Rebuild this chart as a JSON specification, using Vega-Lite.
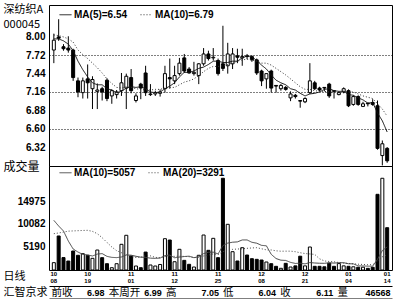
{
"$schema":"https://vega.github.io/schema/vega-lite/v6.json",
"background":"white",
"padding":{"left":2,"top":2,"right":2,"bottom":0},
"datasets":{
"k":[
{"d":"10/08","o":7.80,"h":8.05,"l":7.60,"c":7.95,"v":1600,"ma5":7.97,"ma10":8.03,"vma10":10800,"vma20":7900},
{"d":"10/11","o":8.00,"h":8.27,"l":7.94,"c":7.98,"v":7400,"ma5":7.97,"ma10":8.02,"vma10":9570,"vma20":8050},
{"d":"10/12","o":7.85,"h":7.89,"l":7.79,"c":7.82,"v":2700,"ma5":7.94,"ma10":8.00,"vma10":8480,"vma20":8250},
{"d":"10/13","o":7.83,"h":8.01,"l":7.76,"c":7.80,"v":1950,"ma5":7.89,"ma10":7.97,"vma10":6300,"vma20":8450},
{"d":"10/14","o":7.80,"h":7.82,"l":7.33,"c":7.38,"v":4130,"ma5":7.79,"ma10":7.92,"vma10":4570,"vma20":8500},
{"d":"10/15","o":7.33,"h":7.38,"l":7.08,"c":7.16,"v":3200,"ma5":7.63,"ma10":7.80,"vma10":3900,"vma20":8550},
{"d":"10/18","o":7.15,"h":7.38,"l":7.06,"c":7.33,"v":3550,"ma5":7.50,"ma10":7.73,"vma10":3400,"vma20":8600},
{"d":"10/19","o":7.36,"h":7.58,"l":7.06,"c":7.30,"v":3200,"ma5":7.39,"ma10":7.67,"vma10":3260,"vma20":8630},
{"d":"10/20","o":7.21,"h":7.40,"l":6.90,"c":7.35,"v":2540,"ma5":7.30,"ma10":7.60,"vma10":3050,"vma20":8400},
{"d":"10/21","o":7.17,"h":7.29,"l":6.90,"c":7.19,"v":4350,"ma5":7.27,"ma10":7.53,"vma10":3462,"vma20":7900},
{"d":"10/22","o":7.21,"h":7.24,"l":7.03,"c":7.16,"v":2680,"ma5":7.27,"ma10":7.45,"vma10":3570,"vma20":7030},
{"d":"10/25","o":7.34,"h":7.37,"l":7.02,"c":7.06,"v":1370,"ma5":7.21,"ma10":7.36,"vma10":2967,"vma20":6000},
{"d":"10/26","o":7.10,"h":7.20,"l":6.98,"c":7.18,"v":500,"ma5":7.19,"ma10":7.29,"vma10":2747,"vma20":5000},
{"d":"10/27","o":7.12,"h":7.19,"l":7.06,"c":7.16,"v":1370,"ma5":7.15,"ma10":7.23,"vma10":2689,"vma20":4200},
{"d":"10/28","o":7.18,"h":7.45,"l":7.10,"c":7.30,"v":5590,"ma5":7.17,"ma10":7.22,"vma10":2835,"vma20":3760},
{"d":"10/29","o":7.22,"h":7.44,"l":6.90,"c":7.40,"v":7550,"ma5":7.22,"ma10":7.24,"vma10":3270,"vma20":3400},
{"d":"11/01","o":7.38,"h":7.51,"l":7.14,"c":7.18,"v":3050,"ma5":7.24,"ma10":7.23,"vma10":3220,"vma20":3000},
{"d":"11/02","o":7.03,"h":7.14,"l":7.00,"c":7.10,"v":870,"ma5":7.23,"ma10":7.21,"vma10":2987,"vma20":2700},
{"d":"11/03","o":7.28,"h":7.30,"l":7.05,"c":7.22,"v":500,"ma5":7.24,"ma10":7.20,"vma10":2783,"vma20":2800},
{"d":"11/04","o":7.45,"h":7.56,"l":7.10,"c":7.15,"v":3900,"ma5":7.21,"ma10":7.19,"vma10":2738,"vma20":3100},
{"d":"11/05","o":7.12,"h":7.28,"l":7.10,"c":7.13,"v":1090,"ma5":7.16,"ma10":7.19,"vma10":2579,"vma20":3075},
{"d":"11/08","o":7.13,"h":7.18,"l":7.10,"c":7.15,"v":870,"ma5":7.15,"ma10":7.20,"vma10":2529,"vma20":2748},
{"d":"11/09","o":7.14,"h":7.20,"l":7.09,"c":7.16,"v":1200,"ma5":7.16,"ma10":7.20,"vma10":2599,"vma20":2673},
{"d":"11/10","o":7.21,"h":7.56,"l":7.15,"c":7.44,"v":6810,"ma5":7.21,"ma10":7.22,"vma10":3143,"vma20":2916},
{"d":"11/11","o":7.38,"h":7.67,"l":7.21,"c":7.36,"v":6520,"ma5":7.25,"ma10":7.23,"vma10":3236,"vma20":3036},
{"d":"11/12","o":7.33,"h":7.56,"l":7.28,"c":7.41,"v":1800,"ma5":7.30,"ma10":7.23,"vma10":2661,"vma20":2966},
{"d":"11/15","o":7.44,"h":7.68,"l":7.41,"c":7.60,"v":4500,"ma5":7.39,"ma10":7.27,"vma10":2806,"vma20":3013},
{"d":"11/16","o":7.68,"h":7.74,"l":7.45,"c":7.48,"v":2100,"ma5":7.46,"ma10":7.31,"vma10":2929,"vma20":2958},
{"d":"11/17","o":7.51,"h":7.54,"l":7.44,"c":7.45,"v":1240,"ma5":7.46,"ma10":7.33,"vma10":3003,"vma20":2893},
{"d":"11/18","o":7.44,"h":7.62,"l":7.41,"c":7.46,"v":650,"ma5":7.48,"ma10":7.36,"vma10":2678,"vma20":2708},
{"d":"11/19","o":7.41,"h":7.60,"l":7.28,"c":7.59,"v":3200,"ma5":7.52,"ma10":7.41,"vma10":2889,"vma20":2734},
{"d":"11/22","o":7.59,"h":7.83,"l":7.56,"c":7.74,"v":7610,"ma5":7.54,"ma10":7.47,"vma10":3563,"vma20":3046},
{"d":"11/23","o":7.74,"h":7.79,"l":7.64,"c":7.67,"v":4280,"ma5":7.58,"ma10":7.52,"vma10":3871,"vma20":3235},
{"d":"11/24","o":7.68,"h":7.83,"l":7.64,"c":7.69,"v":6890,"ma5":7.63,"ma10":7.55,"vma10":3879,"vma20":3511},
{"d":"11/25","o":7.64,"h":7.67,"l":7.41,"c":7.44,"v":2680,"ma5":7.63,"ma10":7.55,"vma10":3495,"vma20":3366},
{"d":"11/26","o":7.59,"h":8.17,"l":7.48,"c":7.52,"v":19950,"ma5":7.61,"ma10":7.56,"vma10":5310,"vma20":3986},
{"d":"11/29","o":7.56,"h":7.91,"l":7.44,"c":7.74,"v":9940,"ma5":7.61,"ma10":7.58,"vma10":5854,"vma20":4330},
{"d":"11/30","o":7.59,"h":7.83,"l":7.51,"c":7.74,"v":3980,"ma5":7.63,"ma10":7.60,"vma10":6042,"vma20":4486},
{"d":"12/01","o":7.71,"h":7.82,"l":7.60,"c":7.69,"v":1960,"ma5":7.63,"ma10":7.63,"vma10":6114,"vma20":4559},
{"d":"12/02","o":7.68,"h":7.82,"l":7.56,"c":7.70,"v":4850,"ma5":7.68,"ma10":7.65,"vma10":6534,"vma20":4606},
{"d":"12/03","o":7.71,"h":7.74,"l":7.66,"c":7.70,"v":3260,"ma5":7.71,"ma10":7.66,"vma10":6540,"vma20":4715},
{"d":"12/06","o":7.70,"h":7.72,"l":7.62,"c":7.65,"v":2460,"ma5":7.70,"ma10":7.65,"vma10":6025,"vma20":4794},
{"d":"12/07","o":7.65,"h":7.67,"l":7.42,"c":7.45,"v":2320,"ma5":7.64,"ma10":7.63,"vma10":5829,"vma20":4850},
{"d":"12/08","o":7.48,"h":7.50,"l":7.25,"c":7.33,"v":2175,"ma5":7.57,"ma10":7.60,"vma10":5358,"vma20":4618},
{"d":"12/09","o":7.36,"h":7.44,"l":7.21,"c":7.44,"v":1740,"ma5":7.51,"ma10":7.60,"vma10":5264,"vma20":4379},
{"d":"12/10","o":7.48,"h":7.50,"l":7.15,"c":7.22,"v":1370,"ma5":7.42,"ma10":7.57,"vma10":3406,"vma20":4358},
{"d":"12/13","o":7.26,"h":7.26,"l":7.15,"c":7.25,"v":800,"ma5":7.34,"ma10":7.52,"vma10":2492,"vma20":4173},
{"d":"12/14","o":7.21,"h":7.28,"l":7.18,"c":7.26,"v":370,"ma5":7.30,"ma10":7.47,"vma10":2131,"vma20":4086},
{"d":"12/15","o":7.23,"h":7.25,"l":7.18,"c":7.20,"v":1450,"ma5":7.27,"ma10":7.42,"vma10":2080,"vma20":4097},
{"d":"12/16","o":7.07,"h":7.17,"l":7.02,"c":7.13,"v":650,"ma5":7.21,"ma10":7.36,"vma10":1660,"vma20":4097},
{"d":"12/17","o":7.11,"h":7.13,"l":7.06,"c":7.09,"v":900,"ma5":7.19,"ma10":7.30,"vma10":1424,"vma20":3982},
{"d":"12/20","o":7.03,"h":7.03,"l":6.92,"c":7.02,"v":3000,"ma5":7.14,"ma10":7.24,"vma10":1478,"vma20":3751},
{"d":"12/21","o":7.01,"h":7.08,"l":6.99,"c":7.06,"v":900,"ma5":7.10,"ma10":7.20,"vma10":1336,"vma20":3582},
{"d":"12/22","o":7.15,"h":7.60,"l":7.13,"c":7.33,"v":5000,"ma5":7.13,"ma10":7.20,"vma10":1618,"vma20":3488},
{"d":"12/23","o":7.30,"h":7.33,"l":7.19,"c":7.21,"v":800,"ma5":7.14,"ma10":7.18,"vma10":1524,"vma20":3394},
{"d":"12/24","o":7.22,"h":7.24,"l":7.17,"c":7.19,"v":800,"ma5":7.16,"ma10":7.17,"vma10":1467,"vma20":2436},
{"d":"12/27","o":7.23,"h":7.23,"l":7.17,"c":7.22,"v":700,"ma5":7.20,"ma10":7.17,"vma10":1457,"vma20":1974},
{"d":"12/28","o":7.28,"h":7.30,"l":7.07,"c":7.10,"v":1500,"ma5":7.21,"ma10":7.16,"vma10":1570,"vma20":1850},
{"d":"12/29","o":7.18,"h":7.18,"l":7.06,"c":7.17,"v":800,"ma5":7.18,"ma10":7.15,"vma10":1505,"vma20":1792},
{"d":"12/30","o":7.12,"h":7.17,"l":7.11,"c":7.15,"v":1400,"ma5":7.17,"ma10":7.15,"vma10":1580,"vma20":1620},
{"d":"12/31","o":7.16,"h":7.23,"l":7.14,"c":7.21,"v":900,"ma5":7.17,"ma10":7.17,"vma10":1580,"vma20":1502},
{"d":"01/04","o":7.18,"h":7.20,"l":6.93,"c":6.95,"v":800,"ma5":7.12,"ma10":7.16,"vma10":1360,"vma20":1419},
{"d":"01/05","o":6.97,"h":7.11,"l":6.95,"c":7.09,"v":700,"ma5":7.11,"ma10":7.16,"vma10":1340,"vma20":1338},
{"d":"01/06","o":7.09,"h":7.11,"l":6.95,"c":6.97,"v":600,"ma5":7.07,"ma10":7.13,"vma10":900,"vma20":1259},
{"d":"01/07","o":6.94,"h":7.01,"l":6.93,"c":6.98,"v":600,"ma5":7.04,"ma10":7.10,"vma10":880,"vma20":1202},
{"d":"01/10","o":6.99,"h":6.99,"l":6.94,"c":6.98,"v":360,"ma5":6.99,"ma10":7.08,"vma10":836,"vma20":1152},
{"d":"01/11","o":7.00,"h":7.05,"l":6.95,"c":6.97,"v":600,"ma5":7.00,"ma10":7.06,"vma10":826,"vma20":1142},
{"d":"01/12","o":6.95,"h":7.03,"l":6.28,"c":6.30,"v":16460,"ma5":6.84,"ma10":6.98,"vma10":2322,"vma20":1946},
{"d":"01/13","o":6.19,"h":6.42,"l":6.04,"c":6.37,"v":19950,"ma5":6.72,"ma10":6.90,"vma10":4237,"vma20":2871},
{"d":"01/14","o":6.30,"h":6.32,"l":6.08,"c":6.11,"v":9200,"ma5":6.55,"ma10":6.79,"vma10":5017,"vma20":3299}
],
"info":[
{"r":"i","k":"前收","val":"6.98"},
{"r":"i","k":"本周开","val":"6.99"},
{"r":"i","k":"高","val":"7.05"},
{"r":"i","k":"低","val":"6.04"},
{"r":"i","k":"收","val":"6.11"},
{"r":"i","k":"量","val":"46568"}
]
},
"bounds":"flush",
"spacing":0,
"resolve":{"scale":{"x":"independent","y":"independent","color":"independent","strokeDash":"independent"}},
"vconcat":[
{
"width":343,"height":161,
"data":{"name":"k"},
"resolve":{"axis":{"y":"independent"}},
"encoding":{"x":{"field":"d","type":"ordinal","sort":null,"scale":{"paddingInner":0,"paddingOuter":0.5},"axis":null}},
"layer":[
{"mark":{"type":"rule","color":"#000","strokeWidth":1},
"encoding":{"y":{"field":"l","type":"quantitative","scale":{"domain":[6.031,8.487],"zero":false,"nice":false},
"axis":{"orient":"left","values":[8.0,7.72,7.44,7.16,6.88,6.6,6.32],"format":".2f","ticks":false,"domain":false,"grid":false,"labelOverlap":false,"labelBound":false,"labelFlush":false,"labelPadding":4,"labelFont":"Liberation Sans","labelFontSize":10,"labelFontWeight":"bold","labelColor":"#000",
"title":["深纺织A","000045"],"titleAngle":0,"titleAlign":"left","titleBaseline":"top","titleX":-46,"titleY":-2,"titleFont":"Noto Sans CJK SC","titleFontSize":11,"titleFontWeight":"normal","titleLineHeight":15,"titleColor":"#000"}},
"y2":{"field":"h"}}},
{"mark":{"type":"bar","size":3,"stroke":"#000","strokeWidth":1},
"encoding":{"y":{"field":"o","type":"quantitative",
"axis":{"orient":"left","values":[7.72,7.16,6.6],"labels":false,"ticks":false,"domain":false,"grid":true,"gridColor":"#000","gridDash":[1,2],"gridWidth":1,"title":null}},
"y2":{"field":"c"},
"fill":{"condition":{"test":"datum.c >= datum.o","value":"#ffffff"},"value":"#000000"}}},
{"transform":[{"fold":["ma5","ma10"],"as":["s","val"]}],
"mark":{"type":"line","strokeWidth":1},
"encoding":{"y":{"field":"val","type":"quantitative","axis":null},
"color":{"field":"s","type":"nominal","scale":{"domain":["ma5","ma10"],"range":["#111111","#333333"]},
"legend":{"orient":"none","legendX":10,"legendY":3,"direction":"horizontal","title":null,"labelExpr":"datum.label == 'ma5' ? 'MA(5)=6.54' : 'MA(10)=6.79'","labelFont":"Liberation Sans","labelFontSize":10,"labelFontWeight":"bold","labelColor":"#000","symbolType":"stroke","symbolSize":144,"symbolStrokeWidth":1,"columnPadding":10,"padding":0,"labelOffset":2}},
"strokeDash":{"field":"s","type":"nominal","scale":{"domain":["ma5","ma10"],"range":[[1,0],[1,2]]},
"legend":{"orient":"none","legendX":10,"legendY":3,"direction":"horizontal","title":null,"labelExpr":"datum.label == 'ma5' ? 'MA(5)=6.54' : 'MA(10)=6.79'","labelFont":"Liberation Sans","labelFontSize":10,"labelFontWeight":"bold","labelColor":"#000","symbolType":"stroke","symbolSize":144,"symbolStrokeWidth":1,"columnPadding":10,"padding":0,"labelOffset":2}}}}
]
},
{
"width":343,"height":104,
"data":{"name":"k"},
"resolve":{"axis":{"x":"independent"}},
"layer":[
{"mark":{"type":"bar","size":3,"stroke":"#000","strokeWidth":1},
"encoding":{
"x":{"field":"d","type":"ordinal","sort":null,"scale":{"paddingInner":0,"paddingOuter":0.5},
"axis":{"orient":"bottom","values":["10/08","10/19","11/01","11/12","11/25","12/08","12/21","01/04","01/14"],"labelExpr":"split(datum.value, '/')[0]","ticks":false,"domain":false,"labelAngle":0,"labelFont":"Liberation Sans","labelFontSize":6,"labelFontWeight":"bold","labelColor":"#000","labelPadding":0,"labelBaseline":"top","labelOverlap":false,"labelBound":false,"labelFlush":false,
"title":"日线","titleX":-46,"titleY":6,"titleAlign":"left","titleBaseline":"middle","titleAngle":0,"titleFont":"Noto Sans CJK SC","titleFontSize":11,"titleFontWeight":"normal","titleColor":"#000"}},
"y":{"field":"v","type":"quantitative","scale":{"domain":[0,22620],"nice":false},
"axis":{"values":[5190,10082,14975],"format":"d","ticks":false,"domain":false,"grid":false,"labelOverlap":false,"labelPadding":4,"labelFont":"Liberation Sans","labelFontSize":10,"labelFontWeight":"bold","labelColor":"#000",
"title":"成交量","titleAngle":0,"titleAlign":"left","titleBaseline":"middle","titleX":-46,"titleY":0,"titleFont":"Noto Sans CJK SC","titleFontSize":12,"titleFontWeight":"normal","titleColor":"#000"}},
"fill":{"condition":{"test":"datum.c >= datum.o","value":"#ffffff"},"value":"#000000"}}},
{"transform":[{"fold":["vma10","vma20"],"as":["s","val"]}],
"mark":{"type":"line","strokeWidth":1},
"encoding":{
"x":{"field":"d","type":"ordinal","sort":null,
"axis":{"orient":"bottom","values":["10/08","10/19","11/01","11/12","11/25","12/08","12/21","01/04","01/14"],"labelExpr":"split(datum.value, '/')[1]","ticks":false,"domain":false,"labelAngle":0,"labelFont":"Liberation Sans","labelFontSize":6,"labelFontWeight":"bold","labelColor":"#000","labelPadding":7,"labelBaseline":"top","labelOverlap":false,"labelBound":false,"labelFlush":false,"title":null}},
"y":{"field":"val","type":"quantitative"},
"color":{"field":"s","type":"nominal","scale":{"domain":["vma10","vma20"],"range":["#444444","#444444"]},
"legend":{"orient":"none","legendX":10,"legendY":0,"direction":"horizontal","title":null,"labelExpr":"datum.label == 'vma10' ? 'MA(10)=5057' : 'MA(20)=3291'","labelFont":"Liberation Sans","labelFontSize":10,"labelFontWeight":"bold","labelColor":"#000","symbolType":"stroke","symbolSize":144,"symbolStrokeWidth":1,"columnPadding":10,"padding":0,"labelOffset":2}},
"strokeDash":{"field":"s","type":"nominal","scale":{"domain":["vma10","vma20"],"range":[[1,0],[1,2]]},
"legend":{"orient":"none","legendX":10,"legendY":0,"direction":"horizontal","title":null,"labelExpr":"datum.label == 'vma10' ? 'MA(10)=5057' : 'MA(20)=3291'","labelFont":"Liberation Sans","labelFontSize":10,"labelFontWeight":"bold","labelColor":"#000","symbolType":"stroke","symbolSize":144,"symbolStrokeWidth":1,"columnPadding":10,"padding":0,"labelOffset":2}}}}
]
},
{
"width":343,"height":29,
"view":{"stroke":null},
"data":{"name":"info"},
"resolve":{"axis":{"x":"independent"}},
"encoding":{
"y":{"field":"r","type":"nominal","scale":{"paddingInner":0,"paddingOuter":0},"axis":{"labels":false,"ticks":false,"domain":false,"grid":false,"title":"汇智京求","titleAngle":0,"titleAlign":"left","titleBaseline":"middle","titleX":-46,"titleY":22.5,"titleFont":"Noto Sans CJK SC","titleFontSize":11,"titleFontWeight":"normal","titleColor":"#000"}}
},
"layer":[
{"mark":{"type":"text","align":"left","dx":-26,"dy":8,"font":"Noto Sans CJK SC","fontSize":10.5,"color":"#000"},
"encoding":{"x":{"field":"k","type":"nominal","sort":null,"scale":{"paddingInner":0,"paddingOuter":0},
"axis":{"orient":"top","offset":-16,"domain":true,"domainColor":"#000","domainWidth":1,"labels":false,"ticks":false,"grid":false,"title":null}},
"text":{"field":"k"}}},
{"mark":{"type":"text","align":"right","dx":27,"dy":8,"font":"Liberation Sans","fontSize":9,"fontWeight":"bold","color":"#000"},
"encoding":{"x":{"field":"k","type":"nominal","sort":null,
"axis":{"orient":"bottom","offset":0,"domain":true,"domainColor":"#000","domainWidth":2,"labels":false,"ticks":false,"grid":false,"title":null}},
"text":{"field":"val"}}}
]
}
],
"config":{"view":{"stroke":"#000","strokeWidth":1},"font":"Liberation Sans"}
}
